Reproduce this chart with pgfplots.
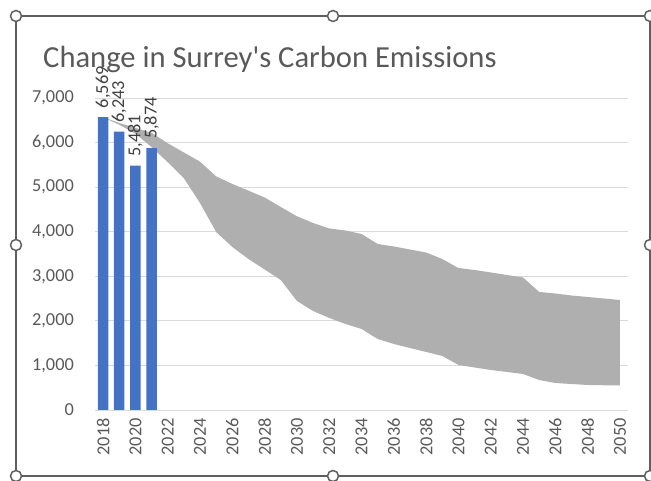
\documentclass[border=0pt]{standalone}
\usepackage{pgfplots}
\pgfplotsset{compat=1.18}
\usepgfplotslibrary{fillbetween}
\usepackage{fontspec}
\setmainfont{Carlito}[Ligatures=TeXOff]
\definecolor{barblue}{HTML}{4472C4}
\definecolor{areagray}{HTML}{AFAFAF}
\definecolor{txtgray}{HTML}{595959}
\definecolor{lblgray}{HTML}{404040}
\definecolor{gridgray}{HTML}{D9D9D9}
\definecolor{framegray}{HTML}{5F5F5F}
\pgfplotstableread{
x up lo
2018 6569 6569
2019 6440 6400
2020 6330 6200
2021 6220 5900
2022 5985 5560
2023 5778 5200
2024 5572 4645
2025 5242 3994
2026 5071 3658
2027 4921 3388
2028 4768 3153
2029 4555 2917
2030 4347 2446
2031 4196 2222
2032 4073 2065
2033 4028 1930
2034 3949 1818
2035 3725 1593
2036 3669 1481
2037 3601 1391
2038 3534 1302
2039 3388 1212
2040 3186 1010
2041 3141 954
2042 3086 898
2043 3029 853
2044 2973 808
2045 2648 673
2046 2614 606
2047 2569 583
2048 2536 561
2049 2502 555
2050 2468 550
}\scen
\begin{document}
\begin{tikzpicture}
\begin{axis}[
  at={(95bp,71bp)}, anchor=south west,
  scale only axis, width=533bp, height=312bp,
  xmin=2017.5, xmax=2050.5, ymin=0, ymax=7000,
  clip=false,
  axis line style={draw=none},
  major tick length=0pt,
  ymajorgrids,
  grid style={gridgray, line width=0.9bp},
  ytick={0,1000,2000,3000,4000,5000,6000,7000},
  yticklabels={0,{1,000},{2,000},{3,000},{4,000},{5,000},{6,000},{7,000}},
  xtick={2018,2020,2022,2024,2026,2028,2030,2032,2034,2036,2038,2040,2042,2044,2046,2048,2050},
  xticklabels={2018,2020,2022,2024,2026,2028,2030,2032,2034,2036,2038,2040,2042,2044,2046,2048,2050},
  yticklabel style={anchor=east, inner sep=0pt, xshift=-21bp, text=txtgray, font=\fontsize{18.3bp}{22bp}\selectfont},
  xticklabel style={yshift=-8bp, rotate=90, anchor=east, inner sep=0pt, text=txtgray, font=\fontsize{18.3bp}{22bp}\selectfont},
]
\addplot[ybar, bar width=10.5bp, fill=barblue, draw=none,
  point meta=y,
  nodes near coords={\pgfmathprintnumber[fixed,precision=0,1000 sep={,},assume math mode=true]{\pgfplotspointmeta}},
  nodes near coords style={yshift=9bp, rotate=90, anchor=west, inner sep=0pt, text=lblgray, font=\fontsize{18.3bp}{22bp}\selectfont}]
  coordinates {(2018,6569) (2019,6243) (2020,5481) (2021,5874)};
\addplot[draw=none, name path=up, forget plot] table[x=x, y=up] {\scen};
\addplot[draw=none, name path=lo, forget plot] table[x=x, y=lo] {\scen};
\addplot[fill=areagray, draw=none] fill between[of=up and lo];
\end{axis}
\begin{scope}[x=1bp,y=1bp]
\node[anchor=base west, inner sep=0pt, text=txtgray, font=\fontsize{30.6bp}{36bp}\selectfont] at (43,413) {Change in Surrey's Carbon Emissions};
\draw[framegray, line width=2bp] (16,5) rectangle (650,465);
\foreach \px/\py in {16/465, 333/465, 650/465, 16/236, 650/236, 16/5, 333/5, 650/5}
  \filldraw[fill=white, draw=framegray, line width=1.5bp] (\px,\py) circle (5.5);
\pgfresetboundingbox
\useasboundingbox (0,0) rectangle (651,481);
\end{scope}
\end{tikzpicture}
\end{document}
